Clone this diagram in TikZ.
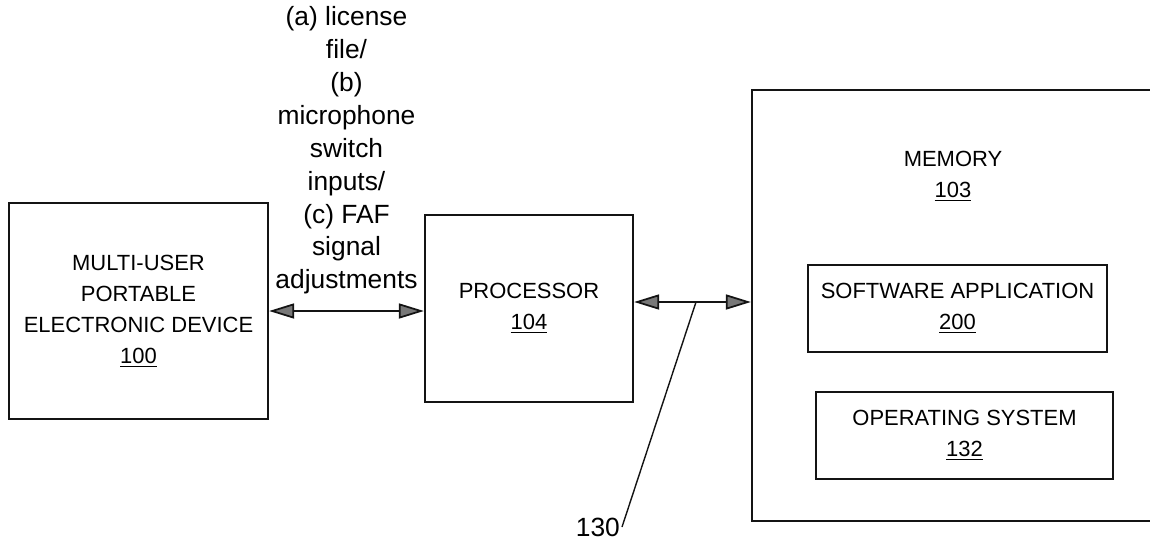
\documentclass[tikz,border=0pt]{standalone}
\usepackage{fontspec}
\setmainfont{Liberation Sans}
\usepackage{xcolor}
\definecolor{inkline}{RGB}{20, 20, 20}
\definecolor{headgray}{RGB}{120, 120, 120}
\usetikzlibrary{
  arrows.meta,
  positioning,
  calc
}

\begin{document}
\begin{tikzpicture}[
    blockbox/.style={draw=inkline, line width=1.3pt, rectangle, align=center, inner sep=0pt,
      font=\fontsize{12.5}{17.6}\selectfont},
    biarrow/.style={draw=inkline, line width=1pt,
      {Triangle[length=5mm, width=3mm, fill=headgray]}-{Triangle[length=5mm, width=3mm, fill=headgray]}},
    leader/.style={draw=inkline, line width=0.8pt}
  ]
  % page frame, memory box runs off the right edge
  \clip (0, 0) rectangle (23, 10.84);

  % the three main blocks
  \node[blockbox, minimum width=5.18cm, minimum height=4.32cm] (device) at (2.77, 4.62)
    {MULTI-USER\\PORTABLE\\ELECTRONIC DEVICE\\\underline{100}};
  \node[blockbox, minimum width=4.16cm, minimum height=3.74cm] (proc) at (10.58, 4.67)
    {PROCESSOR\\\underline{104}};
  \node[blockbox, minimum width=8.3cm, minimum height=8.62cm] (mem) at (19.19, 4.73) {};
  \node[align=center, font=\fontsize{12.5}{17.6}\selectfont] (memlbl) at (19.06, 7.32)
    {MEMORY\\\underline{103}};

  % contents of memory
  \node[blockbox, minimum width=5.98cm, minimum height=1.74cm] (app) at (19.15, 4.67)
    {SOFTWARE APPLICATION\\\underline{200}};
  \node[blockbox, minimum width=5.94cm, minimum height=1.74cm] (os) at (19.29, 2.13)
    {OPERATING SYSTEM\\\underline{132}};

  % device <-> processor link and its label
  \draw[biarrow] (device.east) -- (device.east -| proc.west);
  \node[align=center, font=\fontsize{15}{18.7}\selectfont] (sig) at (6.93, 7.83)
    {(a) license\\file/\\(b)\\microphone\\switch\\inputs/\\(c) FAF\\signal\\adjustments};

  % processor <-> memory bus
  \coordinate (bus) at (13.92, 4.8);
  \draw[biarrow] (bus -| proc.east) -- (bus -| mem.west);

  % reference numeral for the bus
  \node[font=\fontsize{15}{18}\selectfont, anchor=east, inner sep=1pt] (n130) at (12.44, 0.3) {130};
  \draw[leader] (bus) -- (n130.east);

\end{tikzpicture}
\end{document}
